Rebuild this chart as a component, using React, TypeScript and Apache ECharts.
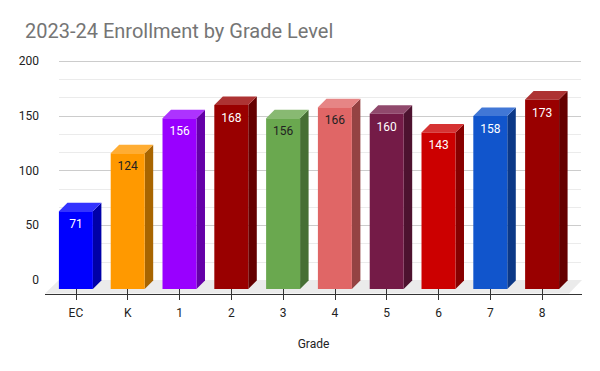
import React, { useEffect, useRef } from "react";
import * as echarts from "echarts";

const categories = ["EC", "K", "1", "2", "3", "4", "5", "6", "7", "8"];
const enrollment = [71, 124, 156, 168, 156, 166, 160, 143, 158, 173];
const barColors = ["#0000ff", "#ff9900", "#9900ff", "#990000", "#6aa84f", "#e06666", "#741b47", "#cc0000", "#1155cc", "#990000"];
const labelColors = ["#ffffff", "#222222", "#ffffff", "#ffffff", "#222222", "#222222", "#ffffff", "#ffffff", "#ffffff", "#ffffff"];
const yTicks = [0, 50, 100, 150, 200];

function hexToRgb(h: string) {
  const n = parseInt(h.slice(1), 16);
  return [(n >> 16) & 255, (n >> 8) & 255, n & 255];
}
function rgb(a: number[]) {
  return "rgb(" + a.map((v) => Math.round(Math.max(0, Math.min(255, v)))).join(",") + ")";
}
function lighten(h: string, t: number) {
  return rgb(hexToRgb(h).map((v) => v + (255 - v) * t));
}
function darken(h: string, f: number) {
  return rgb(hexToRgb(h).map((v) => v * f));
}

const FONT = "Roboto, Arial, sans-serif";

export default function App() {
  const ref = useRef<HTMLDivElement>(null);
  useEffect(() => {
    if (!ref.current) return;
    const chart = echarts.init(ref.current, undefined, { renderer: "svg" });
    const depth = 8.5;
    const option: any = {
      animation: false,
      backgroundColor: "#ffffff",
      title: {
        text: "2023-24 Enrollment by Grade Level",
        left: 20,
        top: 16,
        textStyle: { fontFamily: FONT, fontSize: 20, fontWeight: "normal", color: "#757575" },
      },
      grid: [
        { left: 50, right: 32, top: 70, bottom: 82 },
        { left: 59, right: 19, top: 61, bottom: 91 },
      ],
      xAxis: [
        {
          type: "category",
          gridIndex: 0,
          data: categories,
          z: 10,
          axisLine: { show: true, lineStyle: { color: "#333333", opacity: 0 } },
          axisTick: { show: true, inside: false, length: 11, alignWithLabel: true, lineStyle: { color: "#333333", width: 1, opacity: 1 } },
          axisLabel: { margin: 18, fontFamily: FONT, fontSize: 12, color: "#222222" },
          name: "Grade",
          nameLocation: "middle",
          nameGap: 49,
          nameTextStyle: { fontFamily: FONT, fontSize: 12, color: "#222222", padding: [0, 0, 0, 9] },
          splitLine: { show: false },
        },
        { type: "value", gridIndex: 1, min: 0, max: 1, show: false },
      ],
      yAxis: [
        { type: "value", gridIndex: 0, min: 0, max: 200, show: false },
        {
          type: "value",
          gridIndex: 1,
          min: 0,
          max: 200,
          interval: 50,
          axisLine: { show: false },
          axisTick: { show: false },
          axisLabel: {
            margin: 20,
            fontFamily: FONT,
            fontSize: 12,
            color: "#222222",
            customValues: yTicks,
          },
          splitLine: { show: true, lineStyle: { color: "#cccccc", width: 1 } },
          minorTick: { show: false, splitNumber: 3 },
          minorSplitLine: { show: true, lineStyle: { color: "#ebebeb", width: 1 } },
        },
      ],
      series: [
        {
          type: "custom",
          name: "floor",
          xAxisIndex: 0,
          yAxisIndex: 0,
          z: 1,
          silent: true,
          data: [[0, 0]],
          renderItem: (params: any, api: any) => {
            const cs = params.coordSys;
            const x0 = cs.x;
            const x1 = cs.x + cs.width;
            const b = cs.y + cs.height;
            return {
              type: "group",
              children: [
                {
                  type: "polygon",
                  shape: {
                    points: [
                      [x0 - 5, b + 4.5],
                      [x1 + 1, b + 4.5],
                      [x1 + 14, b - 9],
                      [x0 + 9, b - 9],
                    ],
                  },
                  style: { fill: "#ebebeb" },
                },
                {
                  type: "line",
                  shape: { x1: x0 - 5, y1: b + 5.5, x2: x1 + 14, y2: b + 5.5 },
                  style: { stroke: "#333333", lineWidth: 1 },
                },
              ],
            };
          },
        },
        {
          type: "custom",
          name: "Enrollment",
          xAxisIndex: 0,
          yAxisIndex: 0,
          z: 3,
          data: enrollment.map((v, i) => [i, v]),
          renderItem: (params: any, api: any) => {
            const i = api.value(0);
            const v = api.value(1);
            const top = api.coord([i, v]);
            const bot = api.coord([i, 0]);
            const band = api.size([1, 0])[0];
            const w = band * 0.656;
            const x = top[0] - w / 2;
            const ty = top[1];
            const by = bot[1];
            const c = barColors[i];
            const d = depth;
            return {
              type: "group",
              children: [
                {
                  type: "polygon",
                  shape: { points: [[x + w, ty], [x + w + d, ty - d], [x + w + d, by - d], [x + w, by]] },
                  style: { fill: darken(c, 0.66) },
                },
                {
                  type: "polygon",
                  shape: { points: [[x, ty], [x + w, ty], [x + w + d, ty - d], [x + d, ty - d]] },
                  style: { fill: lighten(c, 0.2) },
                },
                {
                  type: "rect",
                  shape: { x: x, y: ty, width: w, height: by - ty },
                  style: { fill: c },
                },
                {
                  type: "text",
                  x: top[0],
                  y: ty + 13,
                  style: {
                    text: String(v),
                    fill: labelColors[i],
                    font: "12px " + FONT,
                    align: "center",
                    verticalAlign: "middle",
                  },
                },
              ],
            };
          },
        },
      ],
    };
    chart.setOption(option);
    return () => chart.dispose();
  }, []);
  return <div ref={ref} style={{ width: 600, height: 371, position: "absolute", left: 0, top: 0 }} />;
}
